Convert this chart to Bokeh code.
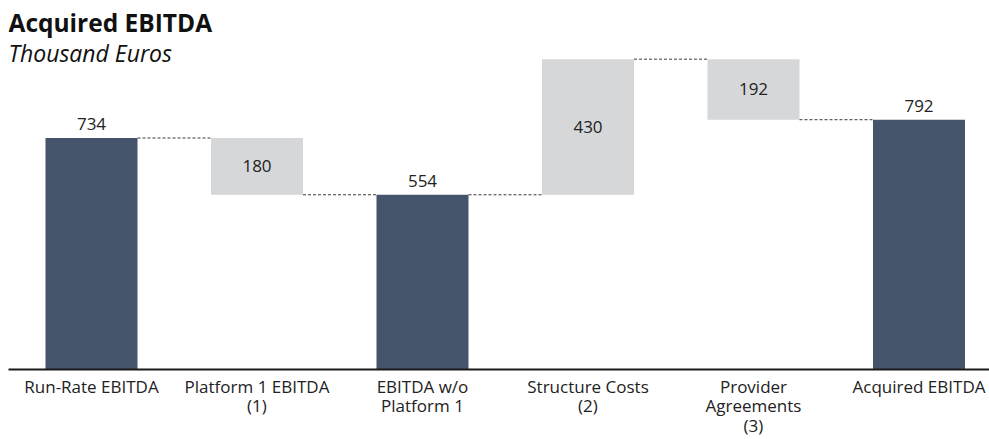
from bokeh.plotting import figure
from bokeh.models import Range1d, FixedTicker, Label, ColumnDataSource
from bokeh.core.properties import value
from bokeh.embed import file_html
from bokeh.resources import INLINE

categories = ["Run-Rate EBITDA", "Platform 1 EBITDA\n(1)", "EBITDA w/o\nPlatform 1",
              "Structure Costs\n(2)", "Provider\nAgreements\n(3)", "Acquired EBITDA"]
values = [734, -180, 554, 430, -192, 792]
kinds = ["total", "delta", "total", "delta", "delta", "total"]

DARK = "#44546A"
LIGHT = "#D6D7D9"
TXT = "#222222"
FONT = "Open Sans"

xs, bottoms, tops, colors, labels, label_y = [], [], [], [], [], []
running = 0
for i, (v, k) in enumerate(zip(values, kinds)):
    xs.append(i)
    if k == "total":
        b, t = 0, v
        running = v
        colors.append(DARK)
        label_y.append(t)
    else:
        b, t = min(running, running + v), max(running, running + v)
        running += v
        colors.append(LIGHT)
        label_y.append((b + t) / 2)
    bottoms.append(b)
    tops.append(t)
    labels.append(str(abs(v)))

# connectors
running = 0
levels = []
for v, k in zip(values, kinds):
    running = v if k == "total" else running + v
    levels.append(running)
bw = 0.556
cx0 = [xs[i] + bw / 2 for i in range(len(xs) - 1)]
cx1 = [xs[i + 1] - bw / 2 for i in range(len(xs) - 1)]
cy = levels[:-1]

p = figure(width=989, height=439, output_backend="svg", toolbar_location=None,
           x_range=Range1d(-0.5015, 5.426), y_range=Range1d(0, 1170),
           min_border_left=8, min_border_right=0, min_border_top=0, min_border_bottom=69)
p.outline_line_color = None
p.xgrid.visible = False
p.ygrid.visible = False
p.yaxis.visible = False
p.background_fill_color = "white"

src = ColumnDataSource(dict(x=xs, b=bottoms, t=tops, c=colors))
p.vbar(x="x", bottom="b", top="t", width=bw, color="c", source=src, line_color=None)
p.segment(x0=cx0, y0=cy, x1=cx1, y1=cy, line_color="#3a3a3a", line_width=1, line_dash="3 2")

tot = ColumnDataSource(dict(x=[xs[i] for i in range(6) if kinds[i] == "total"],
                            y=[label_y[i] for i in range(6) if kinds[i] == "total"],
                            t=[labels[i] for i in range(6) if kinds[i] == "total"]))
dl = ColumnDataSource(dict(x=[xs[i] for i in range(6) if kinds[i] != "total"],
                           y=[label_y[i] for i in range(6) if kinds[i] != "total"],
                           t=[labels[i] for i in range(6) if kinds[i] != "total"]))
p.text(x="x", y="y", text="t", source=tot, text_align="center", text_baseline="bottom",
       y_offset=-8, text_font=value(FONT), text_font_size="17px", text_color=TXT)
p.text(x="x", y="y", text="t", source=dl, text_align="center", text_baseline="middle",
       text_font=value(FONT), text_font_size="17px", text_color=TXT)

ax = p.xaxis[0]
ax.ticker = FixedTicker(ticks=xs)
ax.major_label_overrides = {i: c for i, c in zip(xs, categories)}
ax.major_tick_line_color = None
ax.minor_tick_line_color = None
ax.major_tick_out = 0
ax.major_tick_in = 0
ax.major_label_standoff = 5
ax.axis_line_color = "#1a1a1a"
ax.axis_line_width = 2
ax.major_label_text_font = FONT
ax.major_label_text_font_size = "17px"
ax.major_label_text_color = TXT
ax.major_label_text_line_height = 0.85

p.add_layout(Label(x=0, y=347, x_units="screen", y_units="screen", text="Acquired EBITDA",
                   text_font=FONT, text_font_size="24.5px", text_font_style="bold",
                   text_color="#111111", text_baseline="alphabetic"))
p.add_layout(Label(x=0, y=317, x_units="screen", y_units="screen", text="Thousand Euros",
                   text_font=FONT, text_font_size="23px", text_font_style="italic",
                   text_color="#111111", text_baseline="alphabetic"))

open("out.html", "w").write(file_html(p, INLINE))
